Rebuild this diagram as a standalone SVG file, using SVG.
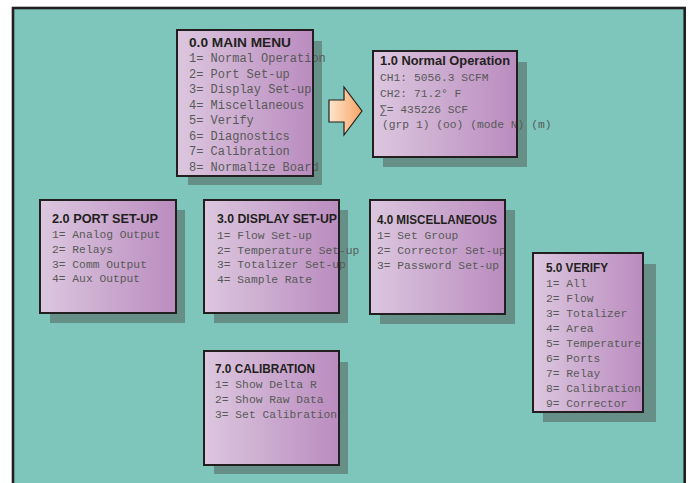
<svg xmlns="http://www.w3.org/2000/svg" width="689" height="483" viewBox="0 0 689 483">
<defs>
<linearGradient id="boxg" x1="0" y1="0" x2="1" y2="0">
<stop offset="0" stop-color="#dcc7df"/>
<stop offset="1" stop-color="#ba8cbf"/>
</linearGradient>
<linearGradient id="arrg" x1="0" y1="0" x2="1" y2="0">
<stop offset="0" stop-color="#fde6cc"/>
<stop offset="1" stop-color="#f7a566"/>
</linearGradient>
</defs>
<style>
.shadow{fill:#658f87}
.fill{fill:url(#boxg)}
.border{fill:none;stroke:#231f20;stroke-width:2}
.title{font-family:"Liberation Sans",Arial,sans-serif;font-weight:bold;font-size:13px;fill:#231f20}
.item{font-family:"Liberation Mono","Courier New",monospace;font-size:11.3px;fill:#595959}
.main .item{font-size:12px}
</style>
<rect x="0" y="0" width="689" height="483" fill="#ffffff"/>
<rect x="13" y="8" width="671.7" height="500" fill="#7ec6bc" stroke="#231f20" stroke-width="2.6"/>

<g id="connectors">
<polygon points="329,100 344,100 344,87 362,111 344,135 344,122 329,122" fill="url(#arrg)" stroke="#231f20" stroke-width="1.2" stroke-linejoin="miter"/>
</g>

<g id="main-menu" class="main">
<rect class="shadow" x="188" y="41" width="134" height="144"/>
<rect class="fill" x="177" y="30" width="136" height="146"/>
<text class="title" x="189" y="47" textLength="102" lengthAdjust="spacingAndGlyphs">0.0 MAIN MENU</text>
<text class="item" x="189" y="62">1= Normal Operation</text>
<text class="item" x="189" y="77.6">2= Port Set-up</text>
<text class="item" x="189" y="93.1">3= Display Set-up</text>
<text class="item" x="189" y="108.7">4= Miscellaneous</text>
<text class="item" x="189" y="124.3">5= Verify</text>
<text class="item" x="189" y="139.9">6= Diagnostics</text>
<text class="item" x="189" y="155.4">7= Calibration</text>
<text class="item" x="189" y="171">8= Normalize Board</text>
<rect class="border" x="177" y="30" width="136" height="146"/>
</g>

<g id="normal-operation">
<rect class="shadow" x="383" y="62" width="144" height="105"/>
<rect class="fill" x="373" y="51" width="144" height="106"/>
<text class="title" x="380" y="65" textLength="130" lengthAdjust="spacingAndGlyphs">1.0 Normal Operation</text>
<text class="item" x="380" y="81">CH1: 5056.3 SCFM</text>
<text class="item" x="380" y="97">CH2: 71.2° F</text>
<text class="item" x="380" y="113">∑= 435226 SCF</text>
<text class="item" x="382" y="128">(grp 1) (oo) (mode N) (m)</text>
<rect class="border" x="373" y="51" width="144" height="106"/>
</g>

<g id="port-setup">
<rect class="shadow" x="50" y="210" width="135" height="113"/>
<rect class="fill" x="40" y="200" width="136" height="113"/>
<text class="title" x="52" y="223" textLength="106" lengthAdjust="spacingAndGlyphs">2.0 PORT SET-UP</text>
<text class="item" x="52" y="238">1= Analog Output</text>
<text class="item" x="52" y="253">2= Relays</text>
<text class="item" x="52" y="267.5">3= Comm Output</text>
<text class="item" x="52" y="282">4= Aux Output</text>
<rect class="border" x="40" y="200" width="136" height="113"/>
</g>

<g id="display-setup">
<rect class="shadow" x="214" y="210" width="134" height="113"/>
<rect class="fill" x="204" y="200" width="135" height="113"/>
<text class="title" x="217" y="223" textLength="120" lengthAdjust="spacingAndGlyphs">3.0 DISPLAY SET-UP</text>
<text class="item" x="217" y="239">1= Flow Set-up</text>
<text class="item" x="217" y="253.5">2= Temperature Set-up</text>
<text class="item" x="217" y="268">3= Totalizer Set-up</text>
<text class="item" x="217" y="282.5">4= Sample Rate</text>
<rect class="border" x="204" y="200" width="135" height="113"/>
</g>

<g id="miscellaneous">
<rect class="shadow" x="380" y="210" width="135" height="114"/>
<rect class="fill" x="370" y="200" width="135" height="114"/>
<text class="title" x="377" y="224" textLength="120" lengthAdjust="spacingAndGlyphs">4.0 MISCELLANEOUS</text>
<text class="item" x="377" y="239">1= Set Group</text>
<text class="item" x="377" y="254">2= Corrector Set-up</text>
<text class="item" x="377" y="269">3= Password Set-up</text>
<rect class="border" x="370" y="200" width="135" height="114"/>
</g>

<g id="verify">
<rect class="shadow" x="543" y="264" width="113" height="158"/>
<rect class="fill" x="533" y="253" width="110" height="159"/>
<text class="title" x="546" y="272" textLength="62" lengthAdjust="spacingAndGlyphs">5.0 VERIFY</text>
<text class="item" x="546" y="287">1= All</text>
<text class="item" x="546" y="302">2= Flow</text>
<text class="item" x="546" y="317">3= Totalizer</text>
<text class="item" x="546" y="332">4= Area</text>
<text class="item" x="546" y="347">5= Temperature</text>
<text class="item" x="546" y="362">6= Ports</text>
<text class="item" x="546" y="377">7= Relay</text>
<text class="item" x="546" y="392">8= Calibration</text>
<text class="item" x="546" y="407">9= Corrector</text>
<rect class="border" x="533" y="253" width="110" height="159"/>
</g>

<g id="calibration">
<rect class="shadow" x="214" y="362" width="134" height="112"/>
<rect class="fill" x="204" y="351" width="135" height="114"/>
<text class="title" x="215" y="373" textLength="100" lengthAdjust="spacingAndGlyphs">7.0 CALIBRATION</text>
<text class="item" x="215" y="388">1= Show Delta R</text>
<text class="item" x="215" y="403">2= Show Raw Data</text>
<text class="item" x="215" y="417.5">3= Set Calibration</text>
<rect class="border" x="204" y="351" width="135" height="114"/>
</g>
</svg>
